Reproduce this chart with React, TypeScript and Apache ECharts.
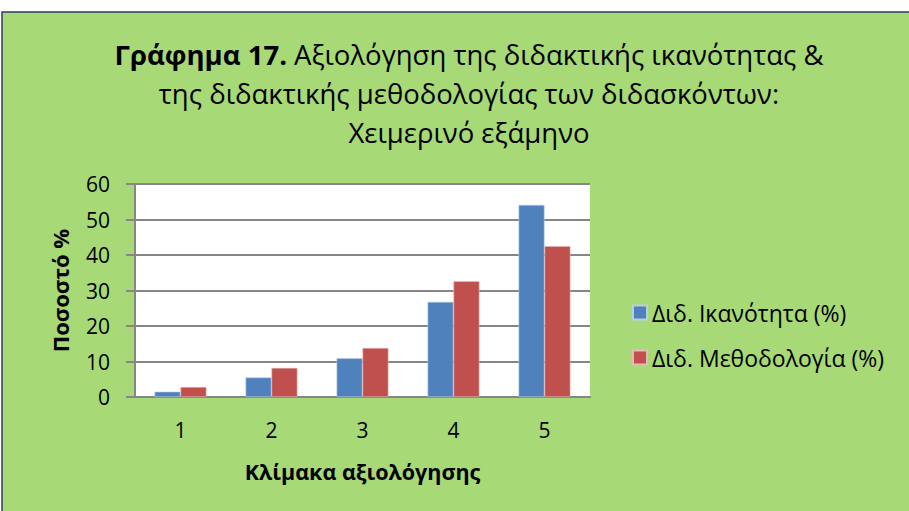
import React, { useEffect, useRef } from "react";
import * as echarts from "echarts";

const categories = ["1", "2", "3", "4", "5"];
const ikanotita = [1.5, 5.5, 10.9, 26.8, 54.1];
const methodologia = [2.8, 8.2, 13.8, 32.6, 42.5];
const seriesNames = ["Διδ. Ικανότητα (%)", "Διδ. Μεθοδολογία (%)"];
const titleBold = "Γράφημα 17.";
const titleRest1 = " Αξιολόγηση της διδακτικής ικανότητας &";
const titleLine2 = "της διδακτικής μεθοδολογίας των διδασκόντων:";
const titleLine3 = "Χειμερινό εξάμηνο";

const FONT = "'Open Sans', 'Noto Sans', sans-serif";

export default function App() {
  const ref = useRef<HTMLDivElement>(null);
  useEffect(() => {
    document.body.style.margin = "0";
    const chart = echarts.init(ref.current!, undefined, { renderer: "svg" });
    chart.setOption({
      animation: false,
      backgroundColor: "#ffffff",
      textStyle: { fontFamily: FONT },
      graphic: [
        {
          type: "rect",
          z: -10,
          shape: { x: 2, y: 12, width: 920, height: 520 },
          style: { fill: "#a8d977", stroke: "#2b3a67", lineWidth: 1.5 },
          silent: true,
        },
      ],
      title: {
        text: `{b|${titleBold}}{n|${titleRest1}}\n{n|${titleLine2}}\n{n|${titleLine3}}`,
        left: 464,
        top: 30,
        textAlign: "center",
        textStyle: {
          fontWeight: "normal",
          rich: {
            b: { fontFamily: FONT, fontSize: 27.5, fontWeight: "bold", color: "#000", lineHeight: 39 },
            n: { fontFamily: FONT, fontSize: 27.5, fontWeight: "normal", color: "#000", lineHeight: 39 },
          },
        },
      },
      legend: {
        orient: "vertical",
        left: 627,
        top: 296,
        itemWidth: 14,
        itemHeight: 14,
        itemGap: 22,
        icon: "rect",
        textStyle: { fontFamily: FONT, fontSize: 23, color: "#000", padding: [0, 0, 0, 0] },
        data: seriesNames,
      },
      grid: {
        left: 135,
        top: 184,
        width: 455,
        height: 213,
        show: true,
        backgroundColor: "#ffffff",
        borderWidth: 0,
      },
      xAxis: {
        type: "category",
        data: categories,
        name: "Κλίμακα αξιολόγησης",
        nameLocation: "middle",
        nameGap: 63,
        nameTextStyle: { fontFamily: FONT, fontSize: 21.5, fontWeight: "bold", color: "#000" },
        axisLine: { lineStyle: { color: "#868686", width: 2 } },
        axisTick: { show: false },
        axisLabel: { fontFamily: FONT, fontSize: 21, color: "#000", margin: 22 },
      },
      yAxis: {
        type: "value",
        min: 0,
        max: 60,
        interval: 10,
        name: "Ποσοστό %",
        nameLocation: "middle",
        nameGap: 64,
        nameRotate: 90,
        nameTextStyle: { fontFamily: FONT, fontSize: 22, fontWeight: "bold", color: "#000" },
        axisLine: { show: true, lineStyle: { color: "#868686", width: 2 } },
        axisTick: { show: true, length: 9, inside: false, lineStyle: { color: "#868686", width: 2 } },
        axisLabel: { fontFamily: FONT, fontSize: 21, color: "#000", margin: 25 },
        splitLine: { lineStyle: { color: "#868686", width: 2 } },
      },
      series: [
        {
          name: seriesNames[0],
          type: "bar",
          data: ikanotita,
          barCategoryGap: "43%",
          barGap: "0%",
          itemStyle: { color: "#4f81bd", borderColor: "#b9cde5", borderWidth: 0.6 },
        },
        {
          name: seriesNames[1],
          type: "bar",
          data: methodologia,
          itemStyle: { color: "#c0504d", borderColor: "#e6b9b8", borderWidth: 0.6 },
        },
      ],
    });
    return () => chart.dispose();
  }, []);
  return <div ref={ref} style={{ width: 909, height: 511 }} />;
}
